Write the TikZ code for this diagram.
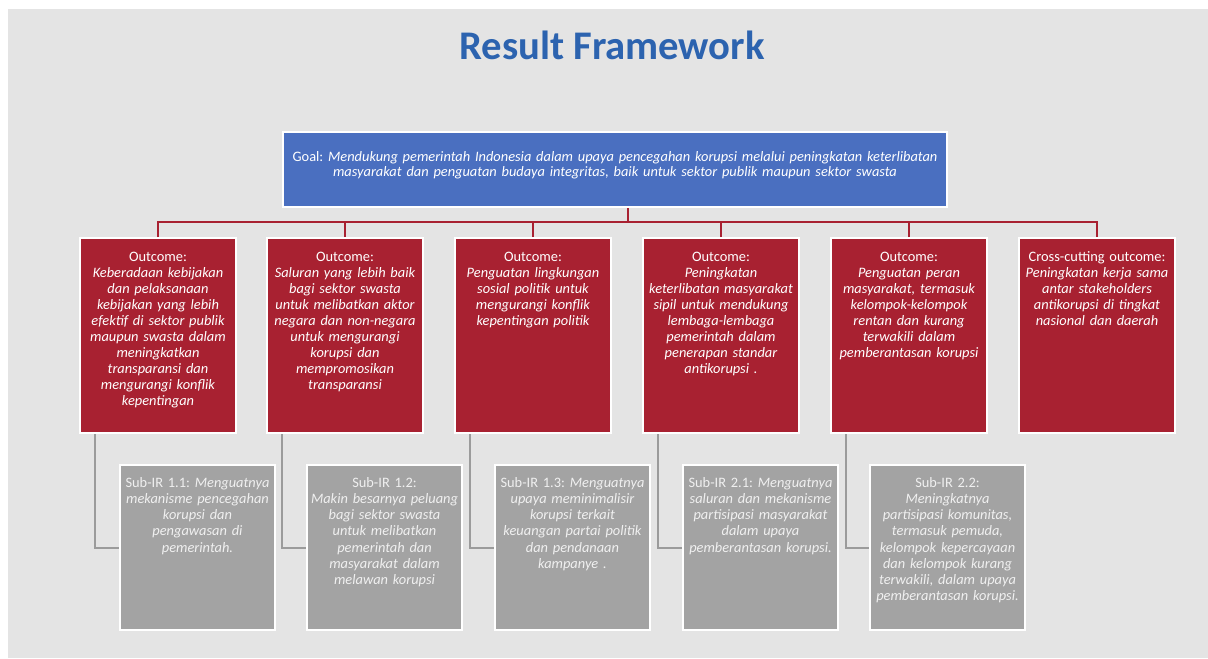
\documentclass[tikz,border=0pt]{standalone}
\usepackage{fontspec}
\setmainfont{Carlito}
\usepackage{tikz}
\frenchspacing
\definecolor{bggray}{HTML}{E4E4E4}
\definecolor{goalblue}{HTML}{4A6FC0}
\definecolor{titleblue}{HTML}{2C63AF}
\definecolor{outred}{HTML}{A82131}
\definecolor{subgray}{HTML}{A3A3A3}
\definecolor{linegray}{HTML}{9B9B9B}

\begin{document}
\begin{tikzpicture}[x=0.75pt,y=0.75pt,yscale=-1,xscale=1,
    goalbox/.style={fill=goalblue, draw=white, line width=1.5pt, text=white, align=center, inner xsep=3pt, inner ysep=0pt, text width=492pt, text height=21.75pt, text depth=34.5pt, font=\fontsize{10.8}{11.25}\selectfont},
    outbox/.style={fill=outred, draw=white, line width=1.5pt, text=white, align=center, inner xsep=2.25pt, inner ysep=0pt, text width=112.5pt, text height=17.25pt, text depth=129pt, font=\fontsize{10.8}{12}\selectfont},
    subbox/.style={fill=subgray, draw=white, line width=1.5pt, text=white!94!black, align=center, inner xsep=1.875pt, inner ysep=0pt, text width=112.5pt, text height=16.5pt, text depth=107.25pt, font=\fontsize{10.8}{12.2}\selectfont},
    redline/.style={draw=outred, line width=1.5pt},
    grayline/.style={draw=linegray, line width=1.5pt}]
    \useasboundingbox (0,0) rectangle (1208,658);
    %Background
    \fill[white] (0,0) rectangle (1208,658);
    \fill[bggray] (8,9) rectangle (1208,658);

    % Title
    \node (title) at (612,45) [text=titleblue, font=\fontsize{30.5}{34}\selectfont\bfseries] {Result Framework};

    % Goal
    \node (goal) at (615,169.5) [goalbox] {Goal: \itshape Mendukung pemerintah Indonesia dalam upaya pencegahan korupsi melalui peningkatan keterlibatan\\masyarakat dan penguatan budaya integritas, baik untuk sektor publik maupun sektor swasta};

    % Outcomes
    \node (o1) at (158,335.5) [outbox] {Outcome:\\\itshape Keberadaan kebijakan\\dan pelaksanaan\\kebijakan yang lebih\\efektif di sektor publik\\maupun swasta dalam\\meningkatkan\\transparansi dan\\mengurangi konflik\\kepentingan};
    \node (o2) at (345,335.5) [outbox] {Outcome:\\\itshape Saluran yang lebih baik\\bagi sektor swasta\\untuk melibatkan aktor\\negara dan non-negara\\untuk mengurangi\\korupsi dan\\mempromosikan\\transparansi};
    \node (o3) at (533,335.5) [outbox] {Outcome:\\\itshape Penguatan lingkungan\\sosial politik untuk\\mengurangi konflik\\kepentingan politik};
    \node (o4) at (721,335.5) [outbox] {Outcome:\\\itshape Peningkatan\\keterlibatan masyarakat\\sipil untuk mendukung\\lembaga-lembaga\\pemerintah dalam\\penerapan standar\\antikorupsi .};
    \node (o5) at (909,335.5) [outbox] {Outcome:\\\itshape Penguatan peran\\masyarakat, termasuk\\kelompok-kelompok\\rentan dan kurang\\terwakili dalam\\pemberantasan korupsi};
    \node (o6) at (1097,335.5) [outbox] {Cross-cutting outcome:\\\itshape Peningkatan kerja sama\\antar stakeholders\\antikorupsi di tingkat\\nasional dan daerah};

    % Sub-IR
    \node (s1) at (197.5,547.5) [subbox] {Sub-IR 1.1: {\itshape Menguatnya}\\\itshape mekanisme pencegahan\\korupsi dan\\pengawasan di\\pemerintah.};
    \node (s2) at (384.5,547.5) [subbox] {Sub-IR 1.2:\\\itshape Makin besarnya peluang\\bagi sektor swasta\\untuk melibatkan\\pemerintah dan\\masyarakat dalam\\melawan korupsi};
    \node (s3) at (572.5,547.5) [subbox] {Sub-IR 1.3: {\itshape Menguatnya}\\\itshape upaya meminimalisir\\korupsi terkait\\keuangan partai politik\\dan pendanaan\\kampanye .};
    \node (s4) at (760.5,547.5) [subbox] {Sub-IR 2.1: {\itshape Menguatnya}\\\itshape saluran dan mekanisme\\partisipasi masyarakat\\dalam upaya\\pemberantasan korupsi.};
    \node (s5) at (947.5,547.5) [subbox] {Sub-IR 2.2:\\\itshape Meningkatnya\\partisipasi komunitas,\\termasuk pemuda,\\kelompok kepercayaan\\dan kelompok kurang\\terwakili, dalam upaya\\pemberantasan korupsi.};

    %Straight Lines
    \coordinate (bus) at (628,222);
    \draw[redline] (bus) -- (bus |- goal.south);
    \foreach \i in {1,...,6} \draw[redline] (o\i.north) |- (bus);
    \foreach \i in {1,...,5} \draw[grayline] ([xshift=12pt]o\i.south west) |- (s\i.west);
\end{tikzpicture}
\end{document}
